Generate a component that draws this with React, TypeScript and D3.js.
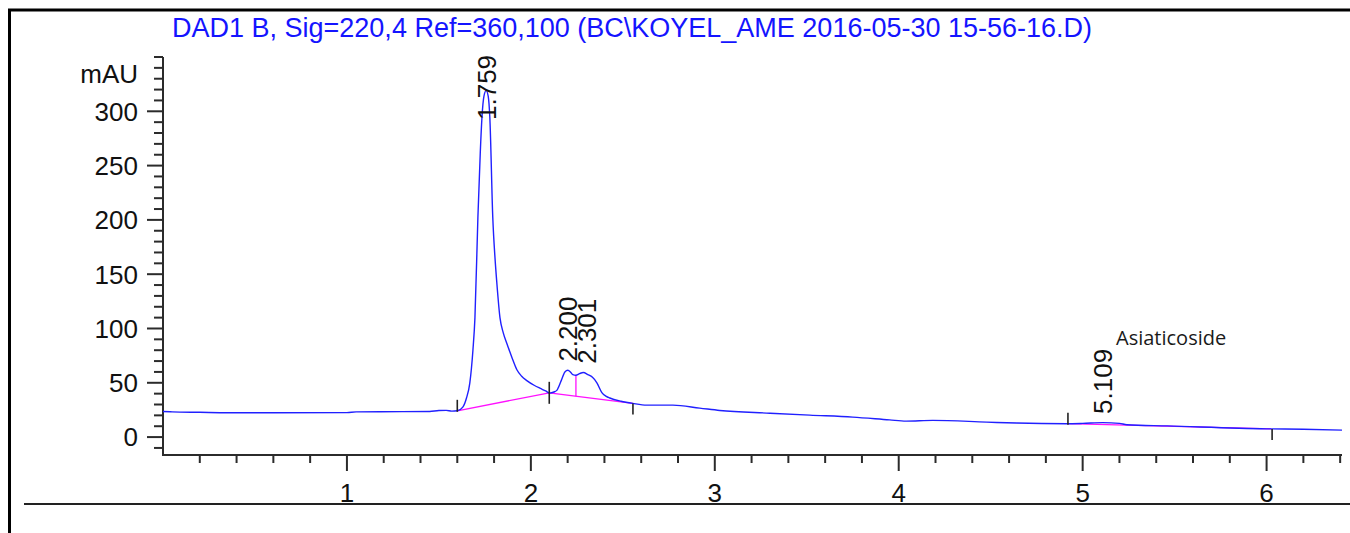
import { useEffect, useRef } from "react";
import * as d3 from "d3";

// DAD1 B trace, retention time (min) vs absorbance (mAU)
const signalTime = [
  0, 0.05, 0.2, 0.35, 0.6, 1.0, 1.05, 1.3, 1.45, 1.5, 1.54, 1.57, 1.6, 1.63,
  1.65, 1.668, 1.685, 1.696, 1.712, 1.725, 1.734, 1.745, 1.757, 1.768, 1.777,
  1.793, 1.805, 1.815, 1.832, 1.85, 1.87, 1.9, 1.924, 1.95, 1.978, 2.02, 2.049,
  2.08, 2.103, 2.125, 2.141, 2.165, 2.185, 2.201, 2.215, 2.228, 2.245, 2.265,
  2.285, 2.31, 2.335, 2.359, 2.386, 2.41, 2.429, 2.49, 2.554, 2.63, 2.772, 2.918,
  3.027, 3.3, 3.516, 3.75, 3.95, 4.04, 4.185, 4.478, 4.64, 4.913, 5.0, 5.109,
  5.2, 5.24, 5.46, 6.0, 6.2, 6.41,
];
const signalMAU = [
  23.5, 23.2, 22.8, 22.4, 22.4, 22.5, 23.2, 23.4, 23.6, 24.5, 24.6, 23.9, 24.2,
  27.6, 36, 49.7, 80, 110, 202, 262, 294, 314, 319, 314, 294, 202, 165, 142, 110,
  96, 86, 72, 62, 56, 52, 47.5, 45, 42.5, 40.5, 41.5, 43, 52, 60, 61.5, 60, 57.5,
  57, 58.5, 59.5, 57.5, 55, 50, 41, 37.5, 36, 33, 31, 29.4, 29.4, 26.7, 24.5, 22,
  20.2, 18.4, 15.8, 14.7, 15.4, 13.8, 12.9, 12.3, 12.6, 13.3, 12.6, 11.4, 10.3,
  7.6, 7.2, 6.4,
];

const peakTimes = [1.759, 2.2, 2.301, 5.109];
const peakLabels = ["1.759", "2.200", "2.301", "5.109"];

// integration baseline segments [start, end] in minutes
const baselineStart = [1.6, 2.1, 4.92];
const baselineEnd = [2.1, 2.555, 6.03];
const dropLineTimes = [2.245];

const eventTimes = [1.6, 2.1, 2.555, 4.92, 6.03];
const eventKinds = ["start", "valley", "end", "start", "end"];

const xTickLabels = ["1", "2", "3", "4", "5", "6"];
const yTickLabels = ["0", "50", "100", "150", "200", "250", "300"];

const title =
  "DAD1 B, Sig=220,4 Ref=360,100 (BC\\KOYEL_AME 2016-05-30 15-56-16.D)";
const compoundName = "Asiaticoside";

export default function App() {
  const svgRef = useRef<SVGSVGElement>(null);

  useEffect(() => {
    const W = 1350;
    const H = 533;
    const svg = d3.select(svgRef.current);
    svg.selectAll("*").remove();
    svg.attr("width", W).attr("height", H);

    const font = "'Liberation Sans', Arial, sans-serif";
    const axisColor = "#2b2b2b";
    const labelSize = 26;

    svg.append("rect").attr("width", W).attr("height", H).attr("fill", "#fff");

    // frame
    svg
      .append("path")
      .attr("d", `M9.5,${H} V10 H${W}`)
      .attr("fill", "none")
      .attr("stroke", "#000")
      .attr("stroke-width", 3);
    svg
      .append("line")
      .attr("x1", 24)
      .attr("x2", W)
      .attr("y1", 504)
      .attr("y2", 504)
      .attr("stroke", "#222")
      .attr("stroke-width", 2);

    const x = d3.scaleLinear().domain([0, 6.41]).range([163, 1342]);
    const y = d3.scaleLinear().domain([-16.5, 350]).range([455, 57]);

    const interp = (t: number) => {
      const i = d3.bisectLeft(signalTime, t);
      if (i <= 0) return signalMAU[0];
      if (i >= signalTime.length) return signalMAU[signalMAU.length - 1];
      const t0 = signalTime[i - 1];
      const t1 = signalTime[i];
      const f = (t - t0) / (t1 - t0);
      return signalMAU[i - 1] + f * (signalMAU[i] - signalMAU[i - 1]);
    };

    // title
    svg
      .append("text")
      .attr("x", 172)
      .attr("y", 37)
      .attr("font-family", font)
      .attr("font-size", 27)
      .attr("fill", "#1414ff")
      .text(title);

    // axes
    const [x0, x1] = x.range();
    const [yb, yt] = y.range();
    svg
      .append("path")
      .attr("d", `M${x0},${yt} V${yb} H${x1}`)
      .attr("fill", "none")
      .attr("stroke", axisColor)
      .attr("stroke-width", 2);

    const yMinor = d3.range(-10, 351, 10).filter((v) => v % 50 !== 0 || v > 300);
    const yMajor = yTickLabels.map(Number);
    svg
      .append("g")
      .selectAll("line")
      .data(yMinor)
      .join("line")
      .attr("x1", x0 - 9)
      .attr("x2", x0)
      .attr("y1", (d) => y(d))
      .attr("y2", (d) => y(d))
      .attr("stroke", axisColor)
      .attr("stroke-width", 2);
    svg
      .append("g")
      .selectAll("line")
      .data(yMajor)
      .join("line")
      .attr("x1", x0 - 16)
      .attr("x2", x0)
      .attr("y1", (d) => y(d))
      .attr("y2", (d) => y(d))
      .attr("stroke", axisColor)
      .attr("stroke-width", 2);
    svg
      .append("g")
      .selectAll("text")
      .data(yTickLabels)
      .join("text")
      .attr("x", 138)
      .attr("y", (d) => y(+d))
      .attr("dy", "0.36em")
      .attr("text-anchor", "end")
      .attr("font-family", font)
      .attr("font-size", labelSize)
      .attr("fill", "#111")
      .text((d) => d);
    svg
      .append("text")
      .attr("x", 138)
      .attr("y", y(335))
      .attr("dy", "0.36em")
      .attr("text-anchor", "end")
      .attr("font-family", font)
      .attr("font-size", labelSize)
      .attr("fill", "#111")
      .text("mAU");

    const xMinor = d3
      .range(1, 33)
      .map((i) => i * 0.2)
      .filter((v) => Math.abs(v - Math.round(v)) > 1e-6);
    const xMajor = xTickLabels.map(Number);
    svg
      .append("g")
      .selectAll("line")
      .data(xMinor)
      .join("line")
      .attr("x1", (d) => x(d))
      .attr("x2", (d) => x(d))
      .attr("y1", yb)
      .attr("y2", yb + 8)
      .attr("stroke", axisColor)
      .attr("stroke-width", 2);
    svg
      .append("g")
      .selectAll("line")
      .data(xMajor)
      .join("line")
      .attr("x1", (d) => x(d))
      .attr("x2", (d) => x(d))
      .attr("y1", yb)
      .attr("y2", yb + 16)
      .attr("stroke", axisColor)
      .attr("stroke-width", 2);
    svg
      .append("g")
      .selectAll("text")
      .data(xTickLabels)
      .join("text")
      .attr("x", (d) => x(+d))
      .attr("y", 502)
      .attr("text-anchor", "middle")
      .attr("font-family", font)
      .attr("font-size", labelSize)
      .attr("fill", "#111")
      .text((d) => d);

    // integration baselines
    const pink = "#ff10ff";
    baselineStart.forEach((t0, i) => {
      const t1 = baselineEnd[i];
      svg
        .append("line")
        .attr("x1", x(t0))
        .attr("y1", y(interp(t0)))
        .attr("x2", x(t1))
        .attr("y2", y(interp(t1)))
        .attr("stroke", pink)
        .attr("stroke-width", 1.3);
    });
    dropLineTimes.forEach((t) => {
      const seg = baselineStart.findIndex((s, i) => t >= s && t <= baselineEnd[i]);
      const s0 = baselineStart[seg];
      const s1 = baselineEnd[seg];
      const b = interp(s0) + ((t - s0) / (s1 - s0)) * (interp(s1) - interp(s0));
      svg
        .append("line")
        .attr("x1", x(t))
        .attr("x2", x(t))
        .attr("y1", y(b))
        .attr("y2", y(interp(t)))
        .attr("stroke", pink)
        .attr("stroke-width", 1.3);
    });

    // signal trace
    const line = d3
      .line<number>()
      .x((_, i) => x(signalTime[i]))
      .y((d) => y(d))
      .curve(d3.curveMonotoneX);
    svg
      .append("path")
      .attr("d", line(signalMAU))
      .attr("fill", "none")
      .attr("stroke", "#2020ff")
      .attr("stroke-width", 1.4);

    // peak start / end markers
    eventTimes.forEach((t, i) => {
      const kind = eventKinds[i];
      const yy = y(interp(t));
      const top = kind === "end" ? yy : yy - 11;
      const bottom = kind === "start" ? yy + 1 : yy + 11;
      svg
        .append("line")
        .attr("x1", x(t))
        .attr("x2", x(t))
        .attr("y1", top)
        .attr("y2", bottom)
        .attr("stroke", "#222")
        .attr("stroke-width", 1.6);
    });

    // peak labels, rotated
    peakTimes.forEach((t, i) => {
      const apex = d3.max(
        signalTime.map((s, j) => (Math.abs(s - t) < 0.03 ? signalMAU[j] : 0))
      ) as number;
      const v = Math.min(apex + 8, 292);
      svg
        .append("text")
        .attr("transform", `translate(${x(t)},${y(v)}) rotate(-90)`)
        .attr("dy", "0.36em")
        .attr("font-family", font)
        .attr("font-size", labelSize)
        .attr("fill", "#111")
        .text(peakLabels[i]);
    });

    svg
      .append("text")
      .attr("x", 1116)
      .attr("y", 345)
      .attr("font-family", "'Open Sans', Calibri, sans-serif")
      .attr("font-size", 20)
      .attr("fill", "#1a1a1a")
      .text(compoundName);
  }, []);

  return (
    <div style={{ position: "absolute", left: 0, top: 0 }}>
      <svg ref={svgRef} style={{ display: "block" }} />
    </div>
  );
}
